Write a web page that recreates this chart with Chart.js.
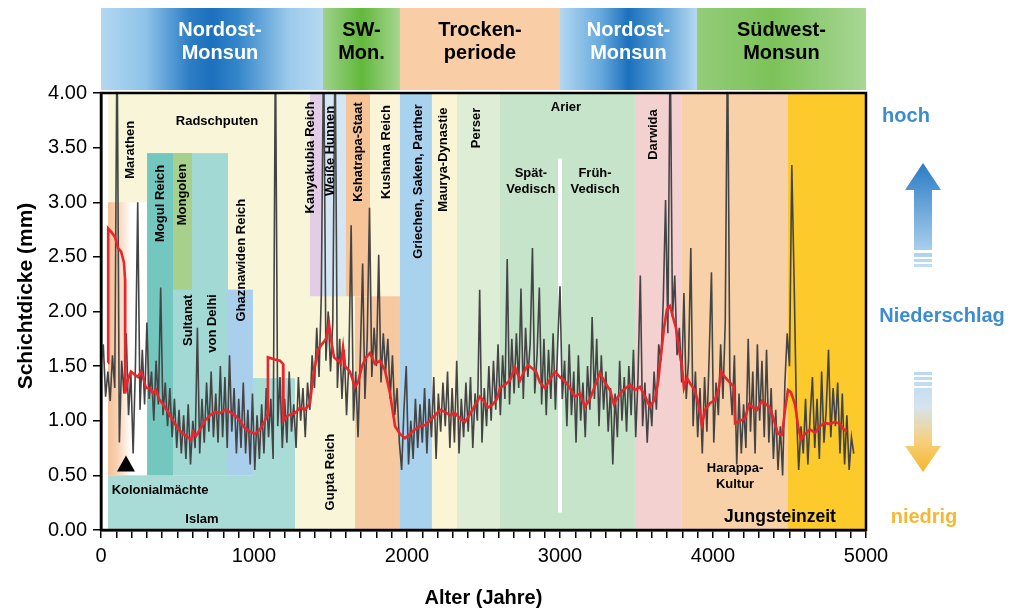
<!DOCTYPE html>
<html><head><meta charset="utf-8">
<script src="https://cdn.jsdelivr.net/npm/chart.js@4.4.1/dist/chart.umd.min.js"></script>
<style>html,body{margin:0;padding:0;background:#fff}#wrap{width:1022px;height:610px}</style>
</head><body><div id="wrap"><canvas id="c" width="1022" height="610"></canvas></div>
<script>
// ---- DATA ----
const FONT = '"Liberation Sans", Arial, Helvetica, sans-serif';
const xTickLabels = ['0','1000','2000','3000','4000','5000'];
const yTickLabels = ['0.00','0.50','1.00','1.50','2.00','2.50','3.00','3.50','4.00'];

// gray varve-thickness series, sampled every 15 years from year 0
const grayStartYear = 0;
const grayStepYears = 15;
const grayValues = [
1.50,1.70,1.22,1.45,1.18,1.60,1.30,4.60,0.80,1.55,
1.25,1.80,1.05,1.45,0.70,1.50,3.00,1.10,1.65,1.15,
1.90,1.20,1.45,1.00,1.55,1.15,2.22,1.05,1.35,0.95,
1.30,0.85,1.20,0.75,1.10,0.70,1.05,0.65,1.15,0.60,
1.00,0.75,1.85,0.70,1.20,0.80,1.35,0.90,1.45,0.85,
1.25,0.80,1.50,0.85,1.40,0.75,1.60,0.90,1.30,0.70,
1.20,0.75,1.35,0.70,1.10,0.60,1.25,0.55,1.05,0.65,
1.15,0.70,1.30,0.85,1.20,0.65,4.50,0.95,1.40,0.75,
1.20,0.80,1.45,0.90,1.15,0.75,1.40,1.00,1.30,0.85,
1.35,1.10,1.60,1.30,1.85,1.40,2.15,4.50,1.55,2.00,
1.45,1.90,4.50,1.30,1.75,1.20,1.65,1.05,1.55,2.79,
1.00,1.45,0.85,1.60,2.44,1.20,1.75,2.95,1.40,1.85,
1.50,2.52,1.35,1.80,1.45,1.75,1.20,1.60,1.05,1.30,
0.80,0.55,1.10,1.50,0.60,1.00,0.65,1.20,0.75,1.15,
0.80,1.30,0.70,1.20,0.85,1.40,0.65,1.25,0.90,1.35,
0.95,1.45,0.75,1.30,0.80,1.55,0.70,1.20,0.85,1.35,
0.90,1.40,0.75,1.25,1.00,2.20,0.80,1.30,0.95,1.50,
1.00,1.55,1.10,1.70,1.05,1.60,1.20,2.48,1.15,1.75,
1.25,1.80,1.30,2.21,1.20,1.85,1.40,1.70,2.58,1.25,
1.60,2.22,1.15,1.75,1.05,1.65,1.20,1.80,1.10,1.70,
2.23,1.20,1.55,0.95,1.70,1.05,1.45,0.80,1.60,1.00,
1.35,0.85,1.50,1.10,1.95,1.20,1.75,0.95,1.60,1.10,
1.45,0.90,1.30,0.60,1.25,0.85,1.55,1.00,1.40,0.90,
1.50,1.05,1.65,0.85,1.40,2.33,0.95,1.35,0.80,1.25,
0.95,1.45,1.10,1.70,1.55,2.10,3.02,1.80,4.50,1.95,
2.33,1.60,1.85,1.35,2.17,1.20,1.55,2.58,0.95,1.45,
0.85,1.30,0.70,1.40,0.90,1.60,2.36,0.80,1.35,1.05,
1.70,1.20,1.90,4.50,1.40,1.05,1.60,0.60,1.25,0.70,
1.15,0.75,1.75,0.90,1.45,0.70,1.70,1.00,1.55,0.85,
1.65,0.80,1.30,0.65,1.10,0.55,0.95,0.50,1.35,1.80,
1.50,3.34,2.29,1.10,0.55,0.95,0.70,1.20,0.60,1.05,
1.40,0.75,1.20,0.65,1.45,0.80,1.10,1.65,0.85,1.30,
0.95,1.35,0.70,1.25,0.60,1.05,0.55,0.85,0.70
];

// red smoothed curve
const redYears = [
46,47,72,92,111,131,150,157,158,176,196,222,242,261,275,294,320,340,360,379,
405,438,471,503,536,569,588,601,621,647,680,712,745,778,810,843,876,908,941,974,
1007,1039,1072,1085,1091,1137,1170,1190,1192,1222,1268,1301,1333,1366,1386,1418,1444,1471,1490,1503,
1523,1549,1569,1582,1595,1627,1660,1680,1706,1732,1758,1791,1824,1856,1889,1922,1954,1987,2020,2052,
2085,2118,2150,2183,2216,2248,2281,2314,2346,2379,2412,2444,2477,2503,2529,2562,2588,2608,2641,2673,
2706,2739,2765,2791,2817,2843,2869,2902,2935,2967,3000,3033,3065,3098,3131,3163,3196,3229,3261,3294,
3327,3353,3379,3405,3431,3458,3490,3523,3556,3588,3621,3641,3660,3680,3699,3719,3738,3758,3778,3797,
3810,3830,3856,3882,3908,3928,3948,3980,4013,4039,4052,4078,4111,4137,4144,4177,4209,4235,4262,4288,
4320,4347,4373,4399,4425,4451,4471,4490,4510,4536,4556,4575,4601,4634,4667,4699,4732,4765,4797,4830,
4856,4876
];
const redValues = [
1.53,2.76,2.72,2.68,2.58,2.55,2.45,2.30,1.25,1.38,1.45,1.42,1.40,1.45,1.40,1.30,1.30,1.25,1.28,1.20,
1.15,1.08,1.00,0.93,0.88,0.85,0.82,0.90,0.86,0.92,1.00,1.05,1.08,1.07,1.10,1.08,1.05,1.00,0.93,0.90,
0.88,0.92,1.00,1.05,1.58,1.56,1.55,1.52,1.00,1.05,1.07,1.12,1.10,1.16,1.40,1.65,1.70,1.75,1.89,1.75,
1.58,1.55,1.52,1.67,1.50,1.45,1.31,1.35,1.50,1.58,1.62,1.52,1.55,1.46,1.25,0.95,0.88,0.84,0.88,0.92,
0.95,0.96,1.00,1.05,1.10,1.08,1.05,1.07,1.02,0.99,1.06,1.14,1.22,1.18,1.12,1.15,1.20,1.30,1.33,1.37,
1.49,1.37,1.45,1.51,1.48,1.45,1.35,1.30,1.38,1.45,1.40,1.36,1.30,1.22,1.25,1.13,1.20,1.32,1.44,1.35,
1.28,1.15,1.22,1.27,1.30,1.33,1.28,1.31,1.22,1.13,1.20,1.35,1.60,1.85,2.02,2.05,1.95,1.85,1.65,1.50,
1.30,1.39,1.33,1.28,1.13,0.96,1.10,1.16,1.19,1.30,1.45,1.40,1.35,1.31,0.98,1.00,1.02,1.15,1.12,1.10,
1.18,1.15,1.12,1.00,0.88,0.87,1.10,1.28,1.26,1.15,0.95,0.83,0.88,0.92,0.89,0.95,0.98,0.97,0.99,0.97,
0.92,0.90
];

// historical periods (background boxes): start year, end year, lower mm, upper mm
const eraNames  = ['Radschputen/Gupta','Kolonialmächte','Islam','Islam (rechts)','Mogul Reich','Sultanat von Delhi','Mongolen','Ghaznawiden Reich','Kanyakubia Reich','Weiße Hunnen','Kshatrapa-Staat','Kushana Reich','Kushana (unten)','Griechen, Saken, Parther','Maurya-Dynastie','Perser','Arier','Darwida','Harappa-Kultur','Jungsteinzeit'];
const eraStart  = [46, 46, 46, 993, 301, 471, 471, 830, 1366,1444,1601,1758,1660,1954,2163,2327,2608,3490,3797,4490];
const eraEnd    = [1660,301,1268,1268,471, 830, 595, 993, 1444,1601,1758,1954,1954,2163,2327,2608,3490,3797,4490,5000];
const eraLow    = [0,   0.5, 0,   0,   0.5, 0.5, 2.2, 0.5, 2.14,2.14,2.14,2.14,0,   0,   0,   0,   0,   0,   0,   0];
const eraHigh   = [4,   3.0, 0.5, 1.39,3.45,3.45,3.45,2.2, 4,   4,   4,   4,   2.14,4,   4,   4,   4,   4,   4,   4];
const eraColors = ['#f9f5d8','gradient','#a9dcd7','#a9dcd7','#74c7bf','#a2d9d5','#a6d08b','#a9cfec','#e3cde6','#d4e6f4','#f6c497','#fbf4d6','#f7c9a0','#a8d2ee','#fbf5d6','#deedd5','#c6e4c9','#f4d1d1','#f8d1a8','#fcca2b'];

// monsoon phases (top banner)
const monsoonNames = ['Nordost-\nMonsun','SW-\nMon.','Trocken-\nperiode','Nordost-\nMonsun','Südwest-\nMonsun'];
const monsoonStart = [0, 1451, 1954, 3000, 3895];
const monsoonEnd   = [1451, 1954, 3000, 3895, 5000];

// labels inside the plot (year, mm, rotated?)
const labelTexts = ['Marathen','Mogul Reich','Mongolen','Sultanat','von Delhi','Ghaznawiden Reich','Kanyakubia Reich','Weiße Hunnen','Kshatrapa-Staat','Kushana Reich','Griechen, Saken, Parther','Maurya-Dynastie','Perser','Darwida','Gupta Reich','Radschputen','Arier','Spät-\nVedisch','Früh-\nVedisch','Harappa-\nKultur','Kolonialmächte','Islam'];
const labelYears = [190, 386, 529, 569, 725, 915, 1366,1497,1680,1863,2072,2235,2451,3608,1497,758, 3039,2810,3229,4144,386, 660];
const labelMm    = [3.48,2.99,3.07,1.92,1.89,2.47,3.41,3.47,3.46,3.46,3.19,3.39,3.68,3.62,0.53,3.74,3.87,3.19,3.19,0.49,0.36,0.10];
const labelRot   = [1,1,1,1,1,1,1,1,1,1,1,1,1,1,1,0,0,0,0,0,0,0];

// ---- CHART ----
const grayPoints = grayValues.map((v,i)=>({x: grayStartYear + i*grayStepYears, y: v}));
const redPoints = redYears.map((yr,i)=>({x: yr, y: redValues[i]}));

const bgPlugin = {
  id:'bg',
  beforeDatasetsDraw(chart){
    const {ctx, chartArea:a, scales:{x,y}} = chart;
    ctx.save();
    ctx.beginPath(); ctx.rect(a.left,a.top,a.right-a.left,a.bottom-a.top); ctx.clip();
    eraNames.forEach((n,i)=>{
      const x0=x.getPixelForValue(eraStart[i]), x1=x.getPixelForValue(eraEnd[i]);
      const y0=y.getPixelForValue(eraHigh[i]), y1=y.getPixelForValue(eraLow[i]);
      if(eraColors[i]==='gradient'){
        const g=ctx.createLinearGradient(x0,0,x1,0);
        g.addColorStop(0,'#f5c097'); g.addColorStop(0.25,'#f8d3b5'); g.addColorStop(0.6,'#ffffff'); g.addColorStop(1,'#ffffff');
        ctx.fillStyle=g;
      } else ctx.fillStyle=eraColors[i];
      ctx.fillRect(x0,y0,x1-x0,y1-y0);
    });
    // white divider at 3000
    ctx.fillStyle='#ffffff';
    const wx=x.getPixelForValue(3000);
    ctx.fillRect(wx-2,y.getPixelForValue(3.40),4,y.getPixelForValue(0.16)-y.getPixelForValue(3.40));
    ctx.restore();
  },
  afterDatasetsDraw(chart){
    const {ctx, chartArea:a, scales:{x,y}} = chart;
    ctx.save();
    ctx.fillStyle='#000';
    ctx.textAlign='center'; ctx.textBaseline='middle';
    labelTexts.forEach((t,i)=>{
      const px=x.getPixelForValue(labelYears[i]), py=y.getPixelForValue(labelMm[i]);
      ctx.font='bold 13px '+FONT;
      const lines=t.split('\n');
      ctx.save(); ctx.translate(px,py);
      if(labelRot[i]) ctx.rotate(-Math.PI/2);
      lines.forEach((ln,k)=>ctx.fillText(ln,0,(k-(lines.length-1)/2)*16));
      ctx.restore();
    });
    ctx.font='bold 17.5px '+FONT;
    ctx.fillText('Jungsteinzeit', x.getPixelForValue(4438), y.getPixelForValue(0.12));
    // triangle (colonial powers marker)
    const tx=x.getPixelForValue(163), ty=y.getPixelForValue(0.6);
    ctx.beginPath(); ctx.moveTo(tx,ty-9); ctx.lineTo(tx+9,ty+7); ctx.lineTo(tx-9,ty+7); ctx.closePath(); ctx.fill();
    ctx.restore();
  },
  afterDraw(chart){
    const {ctx, chartArea:a, scales:{x,y}} = chart;
    ctx.save();
    // frame
    ctx.strokeStyle='#000'; ctx.lineWidth=2.5;
    ctx.strokeRect(a.left,a.top,a.right-a.left,a.bottom-a.top);
    // banner
    const bt=a.top-85, bb=a.top-3;
    monsoonNames.forEach((n,i)=>{
      const x0=x.getPixelForValue(monsoonStart[i]), x1=x.getPixelForValue(monsoonEnd[i]);
      let fill, col;
      const g=ctx.createLinearGradient(x0,0,x1,0);
      if(n.startsWith('Nordost')){
        if(i===0){g.addColorStop(0,'#b3d8f1');g.addColorStop(0.2,'#8fc3e9');g.addColorStop(0.4,'#2d7dc5');g.addColorStop(0.5,'#1c70bd');g.addColorStop(0.62,'#3587ca');g.addColorStop(0.85,'#9dcbec');g.addColorStop(1,'#b5d9f1');}
        else {g.addColorStop(0,'#b3d8f1');g.addColorStop(0.3,'#66a9dd');g.addColorStop(0.5,'#1c70bd');g.addColorStop(0.68,'#4a95d2');g.addColorStop(1,'#b5d9f1');}
        fill=g; col='#ffffff';
      } else if(n.startsWith('SW')){
        g.addColorStop(0,'#a0d28b');g.addColorStop(0.5,'#62b83c');g.addColorStop(1,'#a6d590'); fill=g; col='#000';
      } else if(n.startsWith('Trocken')){ fill='#f9cea6'; col='#000'; }
      else { g.addColorStop(0,'#94cc79');g.addColorStop(0.45,'#7cc259');g.addColorStop(1,'#a8d795'); fill=g; col='#000'; }
      ctx.fillStyle=fill; ctx.fillRect(x0,bt,x1-x0,bb-bt);
      ctx.fillStyle=col; ctx.font='bold 20px '+FONT; ctx.textAlign='center'; ctx.textBaseline='middle';
      const cx=(x0+x1)/2 + (i===0?8:0);
      n.split('\n').forEach((ln,k)=>ctx.fillText(ln,cx,bt+22+k*23));
    });
    // axis titles
    ctx.fillStyle='#000'; ctx.font='bold 20px '+FONT; ctx.textAlign='center'; ctx.textBaseline='middle';
    ctx.fillText('Alter (Jahre)',(a.left+a.right)/2,598);
    ctx.save(); ctx.translate(26,296); ctx.rotate(-Math.PI/2); ctx.font='bold 21px '+FONT; ctx.fillText('Schichtdicke (mm)',0,0); ctx.restore();
    // right side legend
    const blue='#3a8dd3', yellow='#f6b833';
    ctx.font='bold 20px '+FONT;
    ctx.fillStyle=blue; ctx.fillText('hoch',906,116);
    ctx.fillText('Niederschlag',942,316);
    ctx.fillStyle=yellow; ctx.fillText('niedrig',924,517);
    // up arrow
    const ax=923;
    let g1=ctx.createLinearGradient(0,163,0,268); g1.addColorStop(0,'#2a7bc6'); g1.addColorStop(1,'#c2e0f4');
    ctx.fillStyle=g1;
    ctx.beginPath(); ctx.moveTo(ax,163); ctx.lineTo(ax+18,190); ctx.lineTo(ax+9,190); ctx.lineTo(ax+9,250); ctx.lineTo(ax-9,250); ctx.lineTo(ax-9,190); ctx.lineTo(ax-18,190); ctx.closePath(); ctx.fill();
    ctx.fillRect(ax-9,253,18,4); ctx.fillRect(ax-9,259,18,3); ctx.fillRect(ax-9,264,18,3);
    // down arrow
    let g2=ctx.createLinearGradient(0,372,0,472); g2.addColorStop(0,'#b6d9f2'); g2.addColorStop(0.35,'#d6e4ee'); g2.addColorStop(0.7,'#f6cf7a'); g2.addColorStop(1,'#f5b62a');
    ctx.fillStyle=g2;
    ctx.fillRect(ax-9,372,18,3); ctx.fillRect(ax-9,377,18,3); ctx.fillRect(ax-9,382,18,4);
    ctx.beginPath(); ctx.moveTo(ax-9,388); ctx.lineTo(ax+9,388); ctx.lineTo(ax+9,446); ctx.lineTo(ax+18,446); ctx.lineTo(ax,472); ctx.lineTo(ax-18,446); ctx.lineTo(ax-9,446); ctx.closePath(); ctx.fill();
    ctx.restore();
  }
};

new Chart(document.getElementById('c'), {
  type:'line',
  data:{datasets:[
    {data:redPoints, borderColor:'#e8262b', borderWidth:2.6, pointRadius:0, tension:0, order:0},
    {data:grayPoints, borderColor:'#444444', borderWidth:1.6, pointRadius:0, tension:0, order:1}
  ]},
  options:{
    responsive:false, animation:false, parsing:false, normalized:true,
    layout:{padding:{top:93,right:156,left:0,bottom:0}},
    plugins:{legend:{display:false}, tooltip:{enabled:false}},
    scales:{
      x:{type:'linear', min:0, max:5000,
        afterFit:s=>{s.height=80;},
        afterBuildTicks:s=>{s.ticks=[]; for(let v=0; v<=5000; v+=100) s.ticks.push({value:v});},
        ticks:{autoSkip:false, maxRotation:0, padding:6, color:'#000', font:{size:20,family:FONT},
          callback:v=> (v%1000===0 ? xTickLabels[v/1000] : '')},
        grid:{display:true, drawOnChartArea:false, drawTicks:true, tickLength:8, color:'#000', lineWidth:1.5},
        border:{display:true, color:'#000', width:2.5}},
      y:{min:0, max:4,
        afterFit:s=>{s.width=101;},
        afterBuildTicks:s=>{s.ticks=yTickLabels.map(t=>({value:parseFloat(t)}));},
        ticks:{padding:6, color:'#000', font:{size:20,family:FONT},
          callback:v=> yTickLabels[Math.round(v*2)]},
        grid:{display:true, drawOnChartArea:false, drawTicks:true, tickLength:8, color:'#000', lineWidth:1.5},
        border:{display:true, color:'#000', width:2.5}}
    }
  },
  plugins:[bgPlugin]
});
</script></body></html>
